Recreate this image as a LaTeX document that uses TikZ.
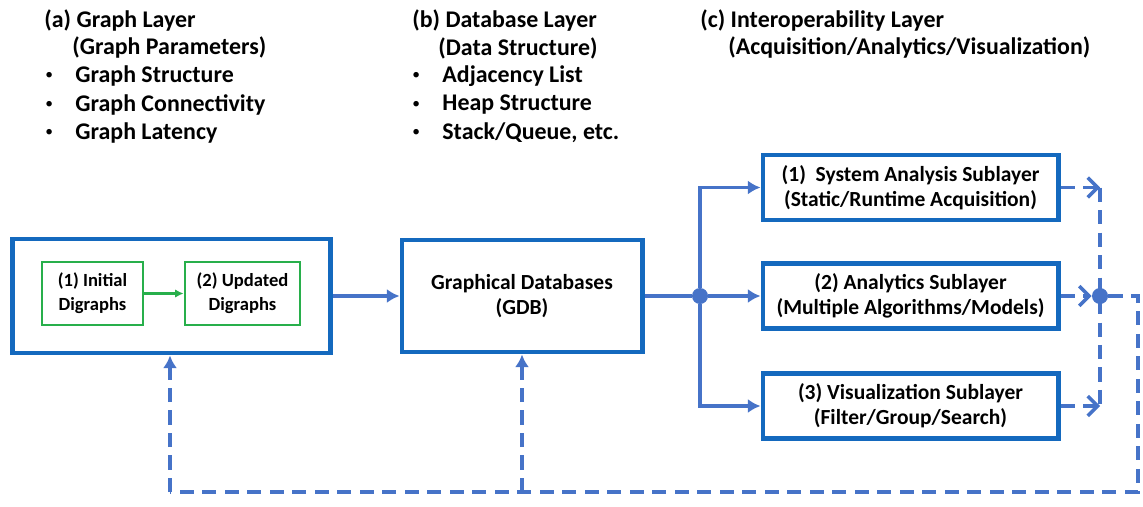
\documentclass[tikz,border=0pt]{standalone}
\usepackage{fontspec}
\setmainfont{Carlito}
\usetikzlibrary{positioning,arrows.meta}
\definecolor{boxblue}{RGB}{20,105,190}
\definecolor{arrowblue}{RGB}{70,115,200}
\definecolor{boxgreen}{RGB}{40,175,75}

\begin{document}
\begin{tikzpicture}[x=0.025cm, y=-0.025cm, -{Latex[length=9pt, width=10pt]}, semithick,
    font=\bfseries\fontsize{15.3}{18}\selectfont,
    layer/.style = {draw=boxblue, line width=3.5pt, rectangle, align=center, fill=white},
    sub/.style = {layer, minimum width=7.375cm, minimum height=1.625cm},
    graph/.style = {draw=boxgreen, line width=2pt, rectangle, align=center, minimum height=1.575cm,
        font=\bfseries\fontsize{13.2}{17}\selectfont},
    flow/.style = {draw=arrowblue, line width=2.8pt},
    back/.style = {flow, dash pattern=on 10pt off 6pt},
    chev/.style = {-{Straight Barb[length=7pt, width=14pt, line width=2.5pt]}},
    dot/.style = {circle, fill=arrowblue, inner sep=0, minimum size=0.4cm},
    head/.style = {anchor=west, inner sep=0, font=\bfseries\fontsize{17}{20}\selectfont},
    bul/.style = {anchor=west, inner sep=0, font=\fontsize{11}{13}\selectfont}]
    \useasboundingbox (0,0) rectangle (1143,506);

    % headers
    \node[head] (ha) at (44,21) {(a) Graph Layer};
    \node[head] (hap) at (72,48) {(Graph Parameters)};
    \node[head] (hb) at (412,21) {(b) Database Layer};
    \node[head] (hbp) at (438,48) {(Data Structure)};
    \node[head] (hc) at (700,21) {(c) Interoperability Layer};
    \node[head] (hcp) at (728,48) {(Acquisition/Analytics/Visualization)};
    \foreach \t [count=\i] in {Graph Structure, Graph Connectivity, Graph Latency} {
        \node[bul] (ga\i) at (45,48+28.3*\i) {\textbullet};
        \node[head] (gt\i) at (75,48+28.3*\i) {\t};
    }
    \foreach \t [count=\i] in {Adjacency List, Heap Structure, {Stack/Queue, etc.}} {
        \node[bul] (da\i) at (412,48+28.3*\i) {\textbullet};
        \node[head] (dt\i) at (442,48+28.3*\i) {\t};
    }

    % layers
    \node[layer, minimum width=7.925cm, minimum height=2.85cm] (a) at (171.5,296) {};
    \node[graph, minimum width=2.525cm] (g1) at (92.5,293.5) {(1) Initial\\Digraphs};
    \node[graph, minimum width=2.875cm] (g2) at (242.5,293.5) {(2) Updated\\Digraphs};
    \node[layer, minimum width=6cm, minimum height=2.8cm] (gdb) at (522,296) {Graphical Databases\\(GDB)};
    \node[sub] (s1) at (910.5,187.5) {(1)\ \ System Analysis Sublayer\\(Static/Runtime Acquisition)};
    \node[sub] (s2) at (910.5,296) {(2) Analytics Sublayer\\(Multiple Algorithms/Models)};
    \node[sub] (s3) at (910.5,406) {(3) Visualization Sublayer\\(Filter/Group/Search)};
    \node[dot] (j1) at (700,296) {};
    \node[dot] (j2) at (1100,296) {};
    \coordinate (r1) at (1100,187.5);
    \coordinate (r3) at (1100,406);
    \coordinate (c1) at (1138,296);
    \coordinate (c2) at (1138,492);
    \coordinate (c3) at (170,492);

    \draw[draw=boxgreen, line width=2pt, -{Latex[length=6pt, width=6pt]}] (g1) -- (g2);
    \draw[flow] (a) -- (gdb);
    \draw[flow, -] (gdb) -- (j1);
    \draw[flow] (j1) -- (s2);
    \draw[flow] (j1) |- (s1);
    \draw[flow] (j1) |- (s3);

    \draw[back, chev] (s1) -- (r1);
    \draw[back, chev] (s2) -- (j2);
    \draw[back, chev] (s3) -- (r3);
    \draw[back, -] (r1) -- (r3);
    \draw[back, -] (j2) -- (c1) -- (c2) -- (c3);
    \draw[back] (c3) -- (c3 |- a.south);
    \draw[back] (gdb.south |- c3) -- (gdb.south);
\end{tikzpicture}
\end{document}
